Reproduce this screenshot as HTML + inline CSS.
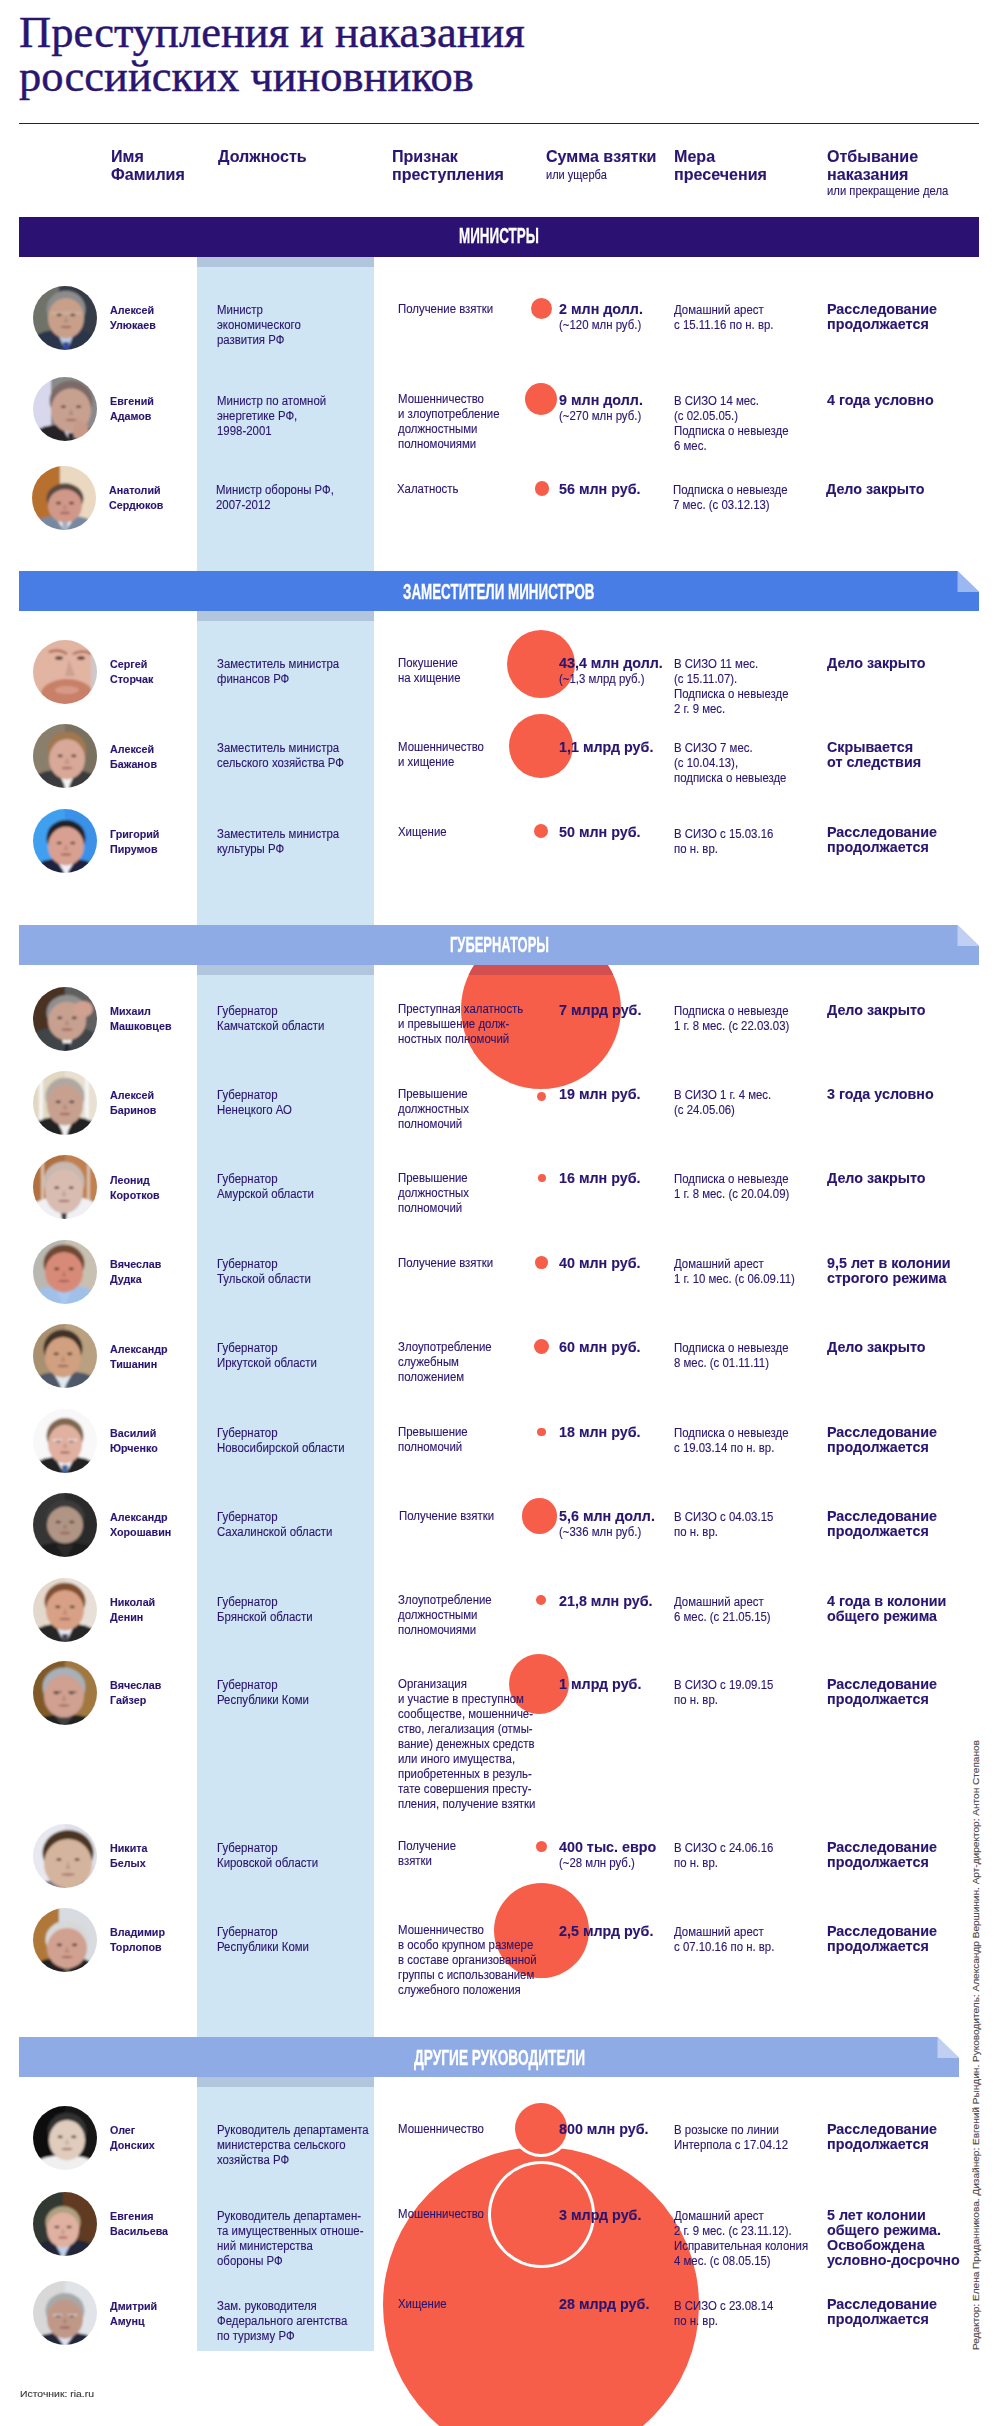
<!DOCTYPE html>
<html><head><meta charset="utf-8">
<style>
html,body{margin:0;padding:0;background:#fff;}
body{width:998px;height:2426px;position:relative;overflow:hidden;font-family:"Liberation Sans",sans-serif;}
.t{position:absolute;white-space:nowrap;transform-origin:0 0;-webkit-text-stroke:0.12px currentColor;}
.abs{position:absolute;}
</style></head><body>
<div class="t" style="left:19px;top:10.88px;font-family:'Liberation Serif',serif;font-size:44.5px;line-height:43.8px;color:#2a1570;-webkit-text-stroke:0.45px #2a1570;">Преступления и наказания<br>российских чиновников</div>
<div class="abs" style="left:19px;top:122.75px;width:960px;height:1.5px;background:#2a1570;"></div>
<div class="t" style="left:111.00px;top:147.61px;font-size:17px;line-height:18px;font-weight:bold;color:#2a1570;transform:scaleX(0.945);">Имя<br>Фамилия</div>
<div class="t" style="left:218.00px;top:147.61px;font-size:17px;line-height:18px;font-weight:bold;color:#2a1570;transform:scaleX(0.945);">Должность</div>
<div class="t" style="left:392.00px;top:147.61px;font-size:17px;line-height:18px;font-weight:bold;color:#2a1570;transform:scaleX(0.945);">Признак<br>преступления</div>
<div class="t" style="left:546.00px;top:147.61px;font-size:17px;line-height:18px;font-weight:bold;color:#2a1570;transform:scaleX(0.945);">Сумма взятки</div>
<div class="t" style="left:546.40px;top:168.10px;font-size:12.7px;line-height:15px;font-weight:normal;color:#2a1570;transform:scaleX(0.87);">или ущерба</div>
<div class="t" style="left:674.30px;top:147.61px;font-size:17px;line-height:18px;font-weight:bold;color:#2a1570;transform:scaleX(0.945);">Мера<br>пресечения</div>
<div class="t" style="left:827.00px;top:147.61px;font-size:17px;line-height:18px;font-weight:bold;color:#2a1570;transform:scaleX(0.945);">Отбывание<br>наказания</div>
<div class="t" style="left:827.00px;top:183.60px;font-size:12.7px;line-height:15px;font-weight:normal;color:#2a1570;transform:scaleX(0.89);">или прекращение дела</div>
<div class="abs" style="left:197px;top:256.5px;width:176.6px;height:2094.9px;background:#cfe5f3;"></div>
<div class="abs" style="left:197px;top:256.5px;width:176.6px;height:10px;background:#b1c5dd;"></div>
<div class="abs" style="left:197px;top:610.8px;width:176.6px;height:10px;background:#b1c5dd;"></div>
<div class="abs" style="left:197px;top:964.6px;width:176.6px;height:10px;background:#b1c5dd;"></div>
<div class="abs" style="left:197px;top:2077px;width:176.6px;height:10px;background:#b1c5dd;"></div>
<div class="abs" style="left:530.90px;top:298.40px;width:21.00px;height:21.00px;border-radius:50%;background:#f65e4a;"></div>
<div class="abs" style="left:525.40px;top:382.90px;width:31.80px;height:31.80px;border-radius:50%;background:#f65e4a;"></div>
<div class="abs" style="left:534.90px;top:481.40px;width:14.60px;height:14.60px;border-radius:50%;background:#f65e4a;"></div>
<div class="abs" style="left:506.70px;top:629.50px;width:68.80px;height:68.80px;border-radius:50%;background:#f65e4a;"></div>
<div class="abs" style="left:509.20px;top:714.20px;width:63.60px;height:63.60px;border-radius:50%;background:#f65e4a;"></div>
<div class="abs" style="left:534.20px;top:824.20px;width:14.00px;height:14.00px;border-radius:50%;background:#f65e4a;"></div>
<div class="abs" style="left:461.00px;top:928.90px;width:160.40px;height:160.40px;border-radius:50%;background:#f65e4a;"></div>
<div class="abs" style="left:461.00px;top:964.6px;width:160.40px;height:10px;overflow:hidden;"><div class="abs" style="left:0;top:-35.70px;width:160.40px;height:160.40px;border-radius:50%;background:#d45050;"></div></div>
<div class="abs" style="left:536.80px;top:1091.90px;width:9.00px;height:9.00px;border-radius:50%;background:#f65e4a;"></div>
<div class="abs" style="left:537.50px;top:1173.80px;width:8.00px;height:8.00px;border-radius:50%;background:#f65e4a;"></div>
<div class="abs" style="left:535.10px;top:1256.10px;width:12.60px;height:12.60px;border-radius:50%;background:#f65e4a;"></div>
<div class="abs" style="left:533.70px;top:1339.10px;width:15.40px;height:15.40px;border-radius:50%;background:#f65e4a;"></div>
<div class="abs" style="left:537.00px;top:1427.50px;width:8.80px;height:8.80px;border-radius:50%;background:#f65e4a;"></div>
<div class="abs" style="left:521.70px;top:1498.40px;width:35.20px;height:35.20px;border-radius:50%;background:#f65e4a;"></div>
<div class="abs" style="left:535.90px;top:1594.70px;width:10.60px;height:10.60px;border-radius:50%;background:#f65e4a;"></div>
<div class="abs" style="left:508.90px;top:1653.90px;width:60.40px;height:60.40px;border-radius:50%;background:#f65e4a;"></div>
<div class="abs" style="left:535.90px;top:1841.00px;width:11.00px;height:11.00px;border-radius:50%;background:#f65e4a;"></div>
<div class="abs" style="left:493.50px;top:1882.70px;width:95.80px;height:95.80px;border-radius:50%;background:#f65e4a;"></div>
<div class="abs" style="left:383.00px;top:2147.20px;width:315.80px;height:315.80px;border-radius:50%;background:#f65e4a;"></div>
<div class="abs" style="left:487.50px;top:2160.70px;width:107.00px;height:107.00px;border-radius:50%;background:#fff;"></div>
<div class="abs" style="left:490.50px;top:2163.70px;width:101.00px;height:101.00px;border-radius:50%;background:#f65e4a;"></div>
<div class="abs" style="left:512.40px;top:2100.00px;width:57.20px;height:57.20px;border-radius:50%;background:#fff;"></div>
<div class="abs" style="left:515.40px;top:2103.00px;width:51.20px;height:51.20px;border-radius:50%;background:#f65e4a;"></div>
<svg class="abs" style="left:0;top:215.6px" width="998" height="42" viewBox="0 215.6 998 42"><polygon points="19,216.6 979,216.6 979,216.6 979,256.6 19,256.6" fill="#2a1172"/></svg>
<svg class="abs" style="left:0;top:570.0px" width="998" height="42" viewBox="0 570.0 998 42"><polygon points="19,571.0 957.5,571.0 979,592.0 979,611.0 19,611.0" fill="#487de6"/><polygon points="957.5,571.0 957.5,592.0 979,592.0" fill="#9cb8f0"/></svg>
<svg class="abs" style="left:0;top:924.0px" width="998" height="42" viewBox="0 924.0 998 42"><polygon points="19,925.0 957.5,925.0 979,946.0 979,965.0 19,965.0" fill="#8eabe6"/><polygon points="957.5,925.0 957.5,946.0 979,946.0" fill="#c0d0f2"/></svg>
<svg class="abs" style="left:0;top:2036.4px" width="998" height="42" viewBox="0 2036.4 998 42"><polygon points="19,2037.4 937.5,2037.4 959,2058.4 959,2077.4 19,2077.4" fill="#8eabe6"/><polygon points="937.5,2037.4 937.5,2058.4 959,2058.4" fill="#c0d0f2"/></svg>
<div class="t" style="left:459.00px;top:223.95px;font-size:21.8px;line-height:24px;font-weight:bold;color:#fff;transform:scaleX(0.617);-webkit-text-stroke:0.3px #fff;">МИНИСТРЫ</div>
<div class="t" style="left:403.30px;top:580.25px;font-size:21.8px;line-height:24px;font-weight:bold;color:#fff;transform:scaleX(0.614);-webkit-text-stroke:0.3px #fff;">ЗАМЕСТИТЕЛИ МИНИСТРОВ</div>
<div class="t" style="left:449.50px;top:933.35px;font-size:21.8px;line-height:24px;font-weight:bold;color:#fff;transform:scaleX(0.594);-webkit-text-stroke:0.3px #fff;">ГУБЕРНАТОРЫ</div>
<div class="t" style="left:413.50px;top:2046.05px;font-size:21.8px;line-height:24px;font-weight:bold;color:#fff;transform:scaleX(0.629);-webkit-text-stroke:0.3px #fff;">ДРУГИЕ РУКОВОДИТЕЛИ</div>
<svg class="abs" style="left:33.00px;top:286.00px" width="64" height="64" viewBox="0 0 64 64"><defs><clipPath id="pc0"><circle cx="32" cy="32" r="32"/></clipPath><filter id="bl0" x="-20%" y="-20%" width="140%" height="140%"><feGaussianBlur stdDeviation="0.8"/></filter></defs><g clip-path="url(#pc0)"><g filter="url(#bl0)"><rect x="-4" y="-4" width="30" height="72" fill="#6e7268"/><rect x="26" y="-4" width="42" height="72" fill="#343a46"/><path d="M-6,70 L-6,56 Q4,46 20,44 L44,44 Q60,46 70,56 L70,70 Z" fill="#2a3448"/><polygon points="24,46 42,46 33,66" fill="#b8cce8"/><polygon points="30,56 36,56 35,66 31,66" fill="#3048a0"/><ellipse cx="33" cy="23.4" rx="19.5" ry="18.7" fill="#8c8c8c"/><ellipse cx="33" cy="32.2" rx="18" ry="20.2" fill="#c8a08a"/><ellipse cx="26.2" cy="28.9" rx="2.6" ry="1.3" fill="#3a2a28" opacity="0.75"/><ellipse cx="39.8" cy="28.9" rx="2.6" ry="1.3" fill="#3a2a28" opacity="0.75"/><ellipse cx="33" cy="41.0" rx="5.4" ry="1.2" fill="#8a4a48" opacity="0.6"/><path d="M33,30 L30.5,36.6 L35.5,36.6 Z" fill="#000" opacity="0.12"/><path d="M18,27 L48,27" stroke="#e0d8d0" stroke-width="1" opacity="0.6"/></g></g></svg>
<svg class="abs" style="left:33.00px;top:376.50px" width="64" height="64" viewBox="0 0 64 64"><defs><clipPath id="pc1"><circle cx="32" cy="32" r="32"/></clipPath><filter id="bl1" x="-20%" y="-20%" width="140%" height="140%"><feGaussianBlur stdDeviation="0.8"/></filter></defs><g clip-path="url(#pc1)"><g filter="url(#bl1)"><rect x="-4" y="-4" width="22" height="72" fill="#d8d8ec"/><rect x="18" y="-4" width="50" height="72" fill="#8a8a8a"/><path d="M-6,70 L-6,60 Q4,50 20,48 L44,48 Q60,50 70,60 L70,70 Z" fill="#282428"/><polygon points="29,50 47,50 38,66" fill="#d0d0e0"/><polygon points="35,56 41,56 40,66 36,66" fill="#282428"/><ellipse cx="38" cy="23.8" rx="21.5" ry="20.4" fill="#7a6a68"/><ellipse cx="38" cy="33.4" rx="20" ry="22.1" fill="#c8a090"/><ellipse cx="30.4" cy="29.8" rx="2.6" ry="1.3" fill="#3a2a28" opacity="0.75"/><ellipse cx="45.6" cy="29.8" rx="2.6" ry="1.3" fill="#3a2a28" opacity="0.75"/><ellipse cx="38" cy="43.0" rx="6.0" ry="1.2" fill="#8a4a48" opacity="0.6"/><path d="M38,31 L35.5,38.2 L40.5,38.2 Z" fill="#000" opacity="0.12"/><ellipse cx="48" cy="54" rx="8" ry="10" fill="#c89888"/></g></g></svg>
<svg class="abs" style="left:31.70px;top:466.00px" width="64" height="64" viewBox="0 0 64 64"><defs><clipPath id="pc2"><circle cx="32" cy="32" r="32"/></clipPath><filter id="bl2" x="-20%" y="-20%" width="140%" height="140%"><feGaussianBlur stdDeviation="0.8"/></filter></defs><g clip-path="url(#pc2)"><g filter="url(#bl2)"><rect x="-4" y="-4" width="32" height="72" fill="#b8702e"/><rect x="28" y="-4" width="40" height="72" fill="#ead8c0"/><path d="M-6,70 L-6,62 Q4,52 20,50 L44,50 Q60,52 70,62 L70,70 Z" fill="#7888a0"/><polygon points="24,52 42,52 33,66" fill="#f4f4f4"/><polygon points="30,56 36,56 35,66 31,66" fill="#a0b0c8"/><ellipse cx="33" cy="32.6" rx="18.5" ry="15.3" fill="#5a4a40"/><ellipse cx="33" cy="39.8" rx="17" ry="16.6" fill="#d09888"/><ellipse cx="26.5" cy="37.1" rx="2.6" ry="1.3" fill="#3a2a28" opacity="0.75"/><ellipse cx="39.5" cy="37.1" rx="2.6" ry="1.3" fill="#3a2a28" opacity="0.75"/><ellipse cx="33" cy="47.0" rx="5.1" ry="1.2" fill="#8a4a48" opacity="0.6"/><path d="M33,38 L30.5,43.4 L35.5,43.4 Z" fill="#000" opacity="0.12"/></g></g></svg>
<svg class="abs" style="left:33.00px;top:640.00px" width="64" height="64" viewBox="0 0 64 64"><defs><clipPath id="pc3"><circle cx="32" cy="32" r="32"/></clipPath><filter id="bl3" x="-20%" y="-20%" width="140%" height="140%"><feGaussianBlur stdDeviation="0.8"/></filter></defs><g clip-path="url(#pc3)"><g filter="url(#bl3)"><rect x="-4" y="-4" width="72" height="72" fill="#e2b4a2"/><ellipse cx="34" cy="54" rx="26" ry="15" fill="#c88068"/><ellipse cx="34" cy="50" rx="12" ry="4" fill="#d89a88"/><ellipse cx="26" cy="18" rx="4" ry="1.8" fill="#5a3a30"/><ellipse cx="48" cy="18" rx="4" ry="1.8" fill="#5a3a30"/><path d="M16,12 Q26,8 34,14 M40,14 Q50,9 58,14" stroke="#b07058" stroke-width="2.5" fill="none"/><path d="M36,20 L32,36 L42,36 Z" fill="#000" opacity="0.1"/><rect x="58" y="-4" width="10" height="72" fill="#d0c8c8"/></g></g></svg>
<svg class="abs" style="left:33.00px;top:724.20px" width="64" height="64" viewBox="0 0 64 64"><defs><clipPath id="pc4"><circle cx="32" cy="32" r="32"/></clipPath><filter id="bl4" x="-20%" y="-20%" width="140%" height="140%"><feGaussianBlur stdDeviation="0.8"/></filter></defs><g clip-path="url(#pc4)"><g filter="url(#bl4)"><rect x="-4" y="-4" width="36" height="72" fill="#8a7e6c"/><rect x="32" y="-4" width="36" height="72" fill="#7a7060"/><path d="M-6,70 L-6,58 Q4,48 20,46 L44,46 Q60,48 70,58 L70,70 Z" fill="#3a3a3c"/><polygon points="25,48 43,48 34,66" fill="#f4f4f4"/><polygon points="31,56 37,56 36,66 32,66" fill="#f4f4f4"/><ellipse cx="34" cy="26.4" rx="19.5" ry="18.7" fill="#a07850"/><ellipse cx="34" cy="35.2" rx="18" ry="20.2" fill="#d8a898"/><ellipse cx="27.2" cy="31.9" rx="2.6" ry="1.3" fill="#3a2a28" opacity="0.75"/><ellipse cx="40.8" cy="31.9" rx="2.6" ry="1.3" fill="#3a2a28" opacity="0.75"/><ellipse cx="34" cy="44.0" rx="5.4" ry="1.2" fill="#8a4a48" opacity="0.6"/><path d="M34,33 L31.5,39.6 L36.5,39.6 Z" fill="#000" opacity="0.12"/></g></g></svg>
<svg class="abs" style="left:33.00px;top:809.30px" width="64" height="64" viewBox="0 0 64 64"><defs><clipPath id="pc5"><circle cx="32" cy="32" r="32"/></clipPath><filter id="bl5" x="-20%" y="-20%" width="140%" height="140%"><feGaussianBlur stdDeviation="0.8"/></filter></defs><g clip-path="url(#pc5)"><g filter="url(#bl5)"><rect x="-4" y="-4" width="36" height="72" fill="#40a0f0"/><rect x="32" y="-4" width="36" height="72" fill="#3a90e8"/><path d="M-6,70 L-6,62 Q4,52 20,50 L44,50 Q60,52 70,62 L70,70 Z" fill="#1a2040"/><polygon points="24,52 42,52 33,66" fill="#f0f0f8"/><polygon points="30,56 36,56 35,66 31,66" fill="#f0f0f8"/><ellipse cx="33" cy="28.7" rx="19.5" ry="17.8" fill="#202028"/><ellipse cx="33" cy="37.1" rx="18" ry="19.3" fill="#d8a090"/><ellipse cx="26.2" cy="34.0" rx="2.6" ry="1.3" fill="#3a2a28" opacity="0.75"/><ellipse cx="39.8" cy="34.0" rx="2.6" ry="1.3" fill="#3a2a28" opacity="0.75"/><ellipse cx="33" cy="45.5" rx="5.4" ry="1.2" fill="#8a4a48" opacity="0.6"/><path d="M33,35 L30.5,41.3 L35.5,41.3 Z" fill="#000" opacity="0.12"/></g></g></svg>
<svg class="abs" style="left:33.00px;top:986.70px" width="64" height="64" viewBox="0 0 64 64"><defs><clipPath id="pc6"><circle cx="32" cy="32" r="32"/></clipPath><filter id="bl6" x="-20%" y="-20%" width="140%" height="140%"><feGaussianBlur stdDeviation="0.8"/></filter></defs><g clip-path="url(#pc6)"><g filter="url(#bl6)"><rect x="-4" y="-4" width="36" height="72" fill="#4a3020"/><rect x="32" y="-4" width="36" height="72" fill="#606060"/><path d="M-6,70 L-6,52 Q4,42 20,40 L44,40 Q60,42 70,52 L70,70 Z" fill="#404448"/><polygon points="25,42 43,42 34,66" fill="#f4f4f4"/><polygon points="31,56 37,56 36,66 32,66" fill="#202830"/><ellipse cx="34" cy="25.7" rx="20.5" ry="17.8" fill="#909090"/><ellipse cx="34" cy="34.1" rx="19" ry="19.3" fill="#c8a090"/><ellipse cx="26.8" cy="30.9" rx="2.6" ry="1.3" fill="#3a2a28" opacity="0.75"/><ellipse cx="41.2" cy="30.9" rx="2.6" ry="1.3" fill="#3a2a28" opacity="0.75"/><ellipse cx="34" cy="42.5" rx="5.7" ry="1.2" fill="#8a4a48" opacity="0.6"/><path d="M34,32 L31.5,38.3 L36.5,38.3 Z" fill="#000" opacity="0.12"/><ellipse cx="50" cy="22" rx="10" ry="8" fill="#d0a090"/></g></g></svg>
<svg class="abs" style="left:33.00px;top:1071.00px" width="64" height="64" viewBox="0 0 64 64"><defs><clipPath id="pc7"><circle cx="32" cy="32" r="32"/></clipPath><filter id="bl7" x="-20%" y="-20%" width="140%" height="140%"><feGaussianBlur stdDeviation="0.8"/></filter></defs><g clip-path="url(#pc7)"><g filter="url(#bl7)"><rect x="-4" y="-4" width="36" height="72" fill="#e0d8c0"/><rect x="32" y="-4" width="36" height="72" fill="#e8e0d0"/><rect x="6" y="-4" width="4" height="72" fill="#f4f4f4"/><rect x="52" y="-4" width="4" height="72" fill="#f4f4f4"/><path d="M-6,70 L-6,58 Q4,48 20,46 L44,46 Q60,48 70,58 L70,70 Z" fill="#202020"/><polygon points="23,48 41,48 32,66" fill="#f0f0f0"/><polygon points="29,56 35,56 34,66 30,66" fill="#f0f0f0"/><ellipse cx="32" cy="25.4" rx="19.5" ry="18.7" fill="#b0a8a0"/><ellipse cx="32" cy="34.2" rx="18" ry="20.2" fill="#c8a090"/><ellipse cx="25.2" cy="30.9" rx="2.6" ry="1.3" fill="#3a2a28" opacity="0.75"/><ellipse cx="38.8" cy="30.9" rx="2.6" ry="1.3" fill="#3a2a28" opacity="0.75"/><ellipse cx="32" cy="43.0" rx="5.4" ry="1.2" fill="#8a4a48" opacity="0.6"/><path d="M32,32 L29.5,38.6 L34.5,38.6 Z" fill="#000" opacity="0.12"/></g></g></svg>
<svg class="abs" style="left:33.00px;top:1155.20px" width="64" height="64" viewBox="0 0 64 64"><defs><clipPath id="pc8"><circle cx="32" cy="32" r="32"/></clipPath><filter id="bl8" x="-20%" y="-20%" width="140%" height="140%"><feGaussianBlur stdDeviation="0.8"/></filter></defs><g clip-path="url(#pc8)"><g filter="url(#bl8)"><rect x="-4" y="-4" width="36" height="72" fill="#b07040"/><rect x="32" y="-4" width="36" height="72" fill="#c08050"/><rect x="8" y="-4" width="3" height="50" fill="#d8c0a8"/><rect x="54" y="-4" width="3" height="50" fill="#d8c0a8"/><path d="M-6,70 L-6,54 Q4,44 20,42 L44,42 Q60,44 70,54 L70,70 Z" fill="#f0f0f4"/><polygon points="22,44 40,44 31,66" fill="#f0f0f4"/><polygon points="28,56 34,56 33,66 29,66" fill="#303040"/><ellipse cx="31" cy="26.8" rx="20.5" ry="20.4" fill="#c8b8b0"/><ellipse cx="31" cy="36.4" rx="19" ry="22.1" fill="#d8bcb0"/><ellipse cx="23.8" cy="32.8" rx="2.6" ry="1.3" fill="#3a2a28" opacity="0.75"/><ellipse cx="38.2" cy="32.8" rx="2.6" ry="1.3" fill="#3a2a28" opacity="0.75"/><ellipse cx="31" cy="46.0" rx="5.7" ry="1.2" fill="#8a4a48" opacity="0.6"/><path d="M31,34 L28.5,41.2 L33.5,41.2 Z" fill="#000" opacity="0.12"/></g></g></svg>
<svg class="abs" style="left:33.00px;top:1240.00px" width="64" height="64" viewBox="0 0 64 64"><defs><clipPath id="pc9"><circle cx="32" cy="32" r="32"/></clipPath><filter id="bl9" x="-20%" y="-20%" width="140%" height="140%"><feGaussianBlur stdDeviation="0.8"/></filter></defs><g clip-path="url(#pc9)"><g filter="url(#bl9)"><rect x="-4" y="-4" width="36" height="72" fill="#b8b8b0"/><rect x="32" y="-4" width="36" height="72" fill="#c8c0b0"/><path d="M-6,70 L-6,58 Q4,48 20,46 L44,46 Q60,48 70,58 L70,70 Z" fill="#a0c0e8"/><polygon points="22,48 40,48 31,66" fill="#a8c8f0"/><polygon points="28,56 34,56 33,66 29,66" fill="#a8c8f0"/><ellipse cx="31" cy="23.4" rx="20.5" ry="18.7" fill="#704830"/><ellipse cx="31" cy="32.2" rx="19" ry="20.2" fill="#d88a78"/><ellipse cx="23.8" cy="28.9" rx="2.6" ry="1.3" fill="#3a2a28" opacity="0.75"/><ellipse cx="38.2" cy="28.9" rx="2.6" ry="1.3" fill="#3a2a28" opacity="0.75"/><ellipse cx="31" cy="41.0" rx="5.7" ry="1.2" fill="#8a4a48" opacity="0.6"/><path d="M31,30 L28.5,36.6 L33.5,36.6 Z" fill="#000" opacity="0.12"/></g></g></svg>
<svg class="abs" style="left:33.00px;top:1324.20px" width="64" height="64" viewBox="0 0 64 64"><defs><clipPath id="pc10"><circle cx="32" cy="32" r="32"/></clipPath><filter id="bl10" x="-20%" y="-20%" width="140%" height="140%"><feGaussianBlur stdDeviation="0.8"/></filter></defs><g clip-path="url(#pc10)"><g filter="url(#bl10)"><rect x="-4" y="-4" width="36" height="72" fill="#a89070"/><rect x="32" y="-4" width="36" height="72" fill="#b8a080"/><path d="M-6,70 L-6,60 Q4,50 20,48 L44,48 Q60,50 70,60 L70,70 Z" fill="#505868"/><polygon points="21,50 39,50 30,66" fill="#e0e8f0"/><polygon points="27,56 33,56 32,66 28,66" fill="#e0e8f0"/><ellipse cx="30" cy="24.4" rx="19.5" ry="18.7" fill="#403028"/><ellipse cx="30" cy="33.2" rx="18" ry="20.2" fill="#d0a080"/><ellipse cx="23.2" cy="29.9" rx="2.6" ry="1.3" fill="#3a2a28" opacity="0.75"/><ellipse cx="36.8" cy="29.9" rx="2.6" ry="1.3" fill="#3a2a28" opacity="0.75"/><ellipse cx="30" cy="42.0" rx="5.4" ry="1.2" fill="#8a4a48" opacity="0.6"/><path d="M30,31 L27.5,37.6 L32.5,37.6 Z" fill="#000" opacity="0.12"/></g></g></svg>
<svg class="abs" style="left:33.00px;top:1409.00px" width="64" height="64" viewBox="0 0 64 64"><defs><clipPath id="pc11"><circle cx="32" cy="32" r="32"/></clipPath><filter id="bl11" x="-20%" y="-20%" width="140%" height="140%"><feGaussianBlur stdDeviation="0.8"/></filter></defs><g clip-path="url(#pc11)"><g filter="url(#bl11)"><rect x="-4" y="-4" width="36" height="72" fill="#f8f8f8"/><rect x="32" y="-4" width="36" height="72" fill="#f8f8f8"/><path d="M-6,70 L-6,60 Q4,50 20,48 L44,48 Q60,50 70,60 L70,70 Z" fill="#202020"/><polygon points="23,50 41,50 32,66" fill="#f4f4f4"/><polygon points="29,56 35,56 34,66 30,66" fill="#4060a0"/><ellipse cx="32" cy="26.7" rx="18.5" ry="17.8" fill="#806850"/><ellipse cx="32" cy="35.1" rx="17" ry="19.3" fill="#e0b0a0"/><ellipse cx="25.5" cy="31.9" rx="2.6" ry="1.3" fill="#3a2a28" opacity="0.75"/><ellipse cx="38.5" cy="31.9" rx="2.6" ry="1.3" fill="#3a2a28" opacity="0.75"/><ellipse cx="32" cy="43.5" rx="5.1" ry="1.2" fill="#8a4a48" opacity="0.6"/><path d="M32,33 L29.5,39.3 L34.5,39.3 Z" fill="#000" opacity="0.12"/><path d="M20,31 h9 M35,31 h9" stroke="#e8e8e8" stroke-width="2" opacity="0.8"/></g></g></svg>
<svg class="abs" style="left:33.00px;top:1493.00px" width="64" height="64" viewBox="0 0 64 64"><defs><clipPath id="pc12"><circle cx="32" cy="32" r="32"/></clipPath><filter id="bl12" x="-20%" y="-20%" width="140%" height="140%"><feGaussianBlur stdDeviation="0.8"/></filter></defs><g clip-path="url(#pc12)"><g filter="url(#bl12)"><rect x="-4" y="-4" width="36" height="72" fill="#363636"/><rect x="32" y="-4" width="36" height="72" fill="#2c2c2c"/><path d="M-6,70 L-6,62 Q4,52 20,50 L44,50 Q60,52 70,62 L70,70 Z" fill="#1c1c1c"/><polygon points="23,52 41,52 32,66" fill="#2a2a2a"/><polygon points="29,56 35,56 34,66 30,66" fill="#2a2a2a"/><ellipse cx="32" cy="24.0" rx="19.5" ry="17.0" fill="#3a3a3a"/><ellipse cx="32" cy="32.0" rx="18" ry="18.4" fill="#b09484"/><ellipse cx="25.2" cy="29.0" rx="2.6" ry="1.3" fill="#3a2a28" opacity="0.75"/><ellipse cx="38.8" cy="29.0" rx="2.6" ry="1.3" fill="#3a2a28" opacity="0.75"/><ellipse cx="32" cy="40.0" rx="5.4" ry="1.2" fill="#8a4a48" opacity="0.6"/><path d="M32,30 L29.5,36.0 L34.5,36.0 Z" fill="#000" opacity="0.12"/></g></g></svg>
<svg class="abs" style="left:33.00px;top:1577.50px" width="64" height="64" viewBox="0 0 64 64"><defs><clipPath id="pc13"><circle cx="32" cy="32" r="32"/></clipPath><filter id="bl13" x="-20%" y="-20%" width="140%" height="140%"><feGaussianBlur stdDeviation="0.8"/></filter></defs><g clip-path="url(#pc13)"><g filter="url(#bl13)"><rect x="-4" y="-4" width="36" height="72" fill="#e4d8cc"/><rect x="32" y="-4" width="36" height="72" fill="#e8e0d8"/><path d="M-6,70 L-6,58 Q4,48 20,46 L44,46 Q60,48 70,58 L70,70 Z" fill="#282828"/><polygon points="23,48 41,48 32,66" fill="#e8e8f4"/><polygon points="29,56 35,56 34,66 30,66" fill="#404050"/><ellipse cx="32" cy="23.4" rx="20.5" ry="18.7" fill="#805030"/><ellipse cx="32" cy="32.2" rx="19" ry="20.2" fill="#d8a084"/><ellipse cx="24.8" cy="28.9" rx="2.6" ry="1.3" fill="#3a2a28" opacity="0.75"/><ellipse cx="39.2" cy="28.9" rx="2.6" ry="1.3" fill="#3a2a28" opacity="0.75"/><ellipse cx="32" cy="41.0" rx="5.7" ry="1.2" fill="#8a4a48" opacity="0.6"/><path d="M32,30 L29.5,36.6 L34.5,36.6 Z" fill="#000" opacity="0.12"/></g></g></svg>
<svg class="abs" style="left:33.00px;top:1661.00px" width="64" height="64" viewBox="0 0 64 64"><defs><clipPath id="pc14"><circle cx="32" cy="32" r="32"/></clipPath><filter id="bl14" x="-20%" y="-20%" width="140%" height="140%"><feGaussianBlur stdDeviation="0.8"/></filter></defs><g clip-path="url(#pc14)"><g filter="url(#bl14)"><rect x="-4" y="-4" width="36" height="72" fill="#805a28"/><rect x="32" y="-4" width="36" height="72" fill="#a07840"/><path d="M-6,70 L-6,66 Q4,56 20,54 L44,54 Q60,56 70,66 L70,70 Z" fill="#202020"/><polygon points="22,56 40,56 31,66" fill="#404040"/><polygon points="28,56 34,56 33,66 29,66" fill="#404040"/><ellipse cx="31" cy="26.1" rx="21.5" ry="19.6" fill="#a8b0b8"/><ellipse cx="31" cy="35.3" rx="20" ry="21.2" fill="#d0a090"/><ellipse cx="23.4" cy="31.9" rx="2.6" ry="1.3" fill="#3a2a28" opacity="0.75"/><ellipse cx="38.6" cy="31.9" rx="2.6" ry="1.3" fill="#3a2a28" opacity="0.75"/><ellipse cx="31" cy="44.5" rx="6.0" ry="1.2" fill="#8a4a48" opacity="0.6"/><path d="M31,33 L28.5,39.9 L33.5,39.9 Z" fill="#000" opacity="0.12"/><path d="M20,31 h9 M35,31 h9" stroke="#404040" stroke-width="1.2" opacity="0.8"/></g></g></svg>
<svg class="abs" style="left:33.00px;top:1823.50px" width="64" height="64" viewBox="0 0 64 64"><defs><clipPath id="pc15"><circle cx="32" cy="32" r="32"/></clipPath><filter id="bl15" x="-20%" y="-20%" width="140%" height="140%"><feGaussianBlur stdDeviation="0.8"/></filter></defs><g clip-path="url(#pc15)"><g filter="url(#bl15)"><rect x="-4" y="-4" width="36" height="72" fill="#e8e8f0"/><rect x="32" y="-4" width="36" height="72" fill="#e0e0e8"/><path d="M-6,70 L-6,68 Q4,58 20,56 L44,56 Q60,58 70,68 L70,70 Z" fill="#7a7488"/><polygon points="26,58 44,58 35,66" fill="#d0d0e0"/><polygon points="32,56 38,56 37,66 33,66" fill="#d0d0e0"/><ellipse cx="35" cy="28.9" rx="25.5" ry="22.9" fill="#4a3424"/><ellipse cx="35" cy="39.7" rx="24" ry="24.8" fill="#d4b49c"/><ellipse cx="25.9" cy="35.6" rx="2.6" ry="1.3" fill="#3a2a28" opacity="0.75"/><ellipse cx="44.1" cy="35.6" rx="2.6" ry="1.3" fill="#3a2a28" opacity="0.75"/><ellipse cx="35" cy="50.5" rx="7.2" ry="1.2" fill="#8a4a48" opacity="0.6"/><path d="M35,37 L32.5,45.1 L37.5,45.1 Z" fill="#000" opacity="0.12"/></g></g></svg>
<svg class="abs" style="left:33.00px;top:1907.60px" width="64" height="64" viewBox="0 0 64 64"><defs><clipPath id="pc16"><circle cx="32" cy="32" r="32"/></clipPath><filter id="bl16" x="-20%" y="-20%" width="140%" height="140%"><feGaussianBlur stdDeviation="0.8"/></filter></defs><g clip-path="url(#pc16)"><g filter="url(#bl16)"><rect x="-4" y="-4" width="30" height="72" fill="#b07838"/><rect x="26" y="-4" width="42" height="72" fill="#d8dce0"/><path d="M-6,70 L-6,62 Q4,52 20,50 L44,50 Q60,52 70,62 L70,70 Z" fill="#202020"/><polygon points="25,52 43,52 34,66" fill="#606050"/><polygon points="31,56 37,56 36,66 32,66" fill="#606050"/><ellipse cx="34" cy="31.4" rx="21.5" ry="18.7" fill="#d8d8d8"/><ellipse cx="34" cy="40.2" rx="20" ry="20.2" fill="#d0a090"/><ellipse cx="26.4" cy="36.9" rx="2.6" ry="1.3" fill="#3a2a28" opacity="0.75"/><ellipse cx="41.6" cy="36.9" rx="2.6" ry="1.3" fill="#3a2a28" opacity="0.75"/><ellipse cx="34" cy="49.0" rx="6.0" ry="1.2" fill="#8a4a48" opacity="0.6"/><path d="M34,38 L31.5,44.6 L36.5,44.6 Z" fill="#000" opacity="0.12"/></g></g></svg>
<svg class="abs" style="left:33.00px;top:2106.00px" width="64" height="64" viewBox="0 0 64 64"><defs><clipPath id="pc17"><circle cx="32" cy="32" r="32"/></clipPath><filter id="bl17" x="-20%" y="-20%" width="140%" height="140%"><feGaussianBlur stdDeviation="0.8"/></filter></defs><g clip-path="url(#pc17)"><g filter="url(#bl17)"><rect x="-4" y="-4" width="36" height="72" fill="#101010"/><rect x="32" y="-4" width="36" height="72" fill="#181818"/><path d="M-6,70 L-6,62 Q4,52 20,50 L44,50 Q60,52 70,62 L70,70 Z" fill="#f0f0f0"/><polygon points="25,52 43,52 34,66" fill="#f0f0f0"/><polygon points="31,56 37,56 36,66 32,66" fill="#f0f0f0"/><ellipse cx="34" cy="25.4" rx="19.5" ry="18.7" fill="#303030"/><ellipse cx="34" cy="34.2" rx="18" ry="20.2" fill="#e0ccbc"/><ellipse cx="27.2" cy="30.9" rx="2.6" ry="1.3" fill="#3a2a28" opacity="0.75"/><ellipse cx="40.8" cy="30.9" rx="2.6" ry="1.3" fill="#3a2a28" opacity="0.75"/><ellipse cx="34" cy="43.0" rx="5.4" ry="1.2" fill="#8a4a48" opacity="0.6"/><path d="M34,32 L31.5,38.6 L36.5,38.6 Z" fill="#000" opacity="0.12"/></g></g></svg>
<svg class="abs" style="left:33.00px;top:2191.50px" width="64" height="64" viewBox="0 0 64 64"><defs><clipPath id="pc18"><circle cx="32" cy="32" r="32"/></clipPath><filter id="bl18" x="-20%" y="-20%" width="140%" height="140%"><feGaussianBlur stdDeviation="0.8"/></filter></defs><g clip-path="url(#pc18)"><g filter="url(#bl18)"><rect x="-4" y="-4" width="34" height="72" fill="#303830"/><rect x="30" y="-4" width="38" height="72" fill="#603a20"/><path d="M-6,70 L-6,60 Q4,50 20,48 L44,48 Q60,50 70,60 L70,70 Z" fill="#202838"/><polygon points="21,50 39,50 30,66" fill="#c0d0e8"/><polygon points="27,56 33,56 32,66 28,66" fill="#c0d0e8"/><ellipse cx="30" cy="30.3" rx="17.5" ry="16.1" fill="#b0a080"/><ellipse cx="30" cy="37.9" rx="16" ry="17.5" fill="#e0b0a0"/><ellipse cx="23.9" cy="35.0" rx="2.6" ry="1.3" fill="#3a2a28" opacity="0.75"/><ellipse cx="36.1" cy="35.0" rx="2.6" ry="1.3" fill="#3a2a28" opacity="0.75"/><ellipse cx="30" cy="45.5" rx="4.8" ry="1.2" fill="#8a4a48" opacity="0.6"/><path d="M30,36 L27.5,41.7 L32.5,41.7 Z" fill="#000" opacity="0.12"/></g></g></svg>
<svg class="abs" style="left:33.00px;top:2281.30px" width="64" height="64" viewBox="0 0 64 64"><defs><clipPath id="pc19"><circle cx="32" cy="32" r="32"/></clipPath><filter id="bl19" x="-20%" y="-20%" width="140%" height="140%"><feGaussianBlur stdDeviation="0.8"/></filter></defs><g clip-path="url(#pc19)"><g filter="url(#bl19)"><rect x="-4" y="-4" width="36" height="72" fill="#d8d8d8"/><rect x="32" y="-4" width="36" height="72" fill="#e0e4e8"/><path d="M-6,70 L-6,64 Q4,54 20,52 L44,52 Q60,54 70,64 L70,70 Z" fill="#202838"/><polygon points="23,54 41,54 32,66" fill="#e0e0f0"/><polygon points="29,56 35,56 34,66 30,66" fill="#e0e0f0"/><ellipse cx="32" cy="29.7" rx="19.5" ry="17.8" fill="#a8a8a8"/><ellipse cx="32" cy="38.1" rx="18" ry="19.3" fill="#c09888"/><ellipse cx="25.2" cy="35.0" rx="2.6" ry="1.3" fill="#3a2a28" opacity="0.75"/><ellipse cx="38.8" cy="35.0" rx="2.6" ry="1.3" fill="#3a2a28" opacity="0.75"/><ellipse cx="32" cy="46.5" rx="5.4" ry="1.2" fill="#8a4a48" opacity="0.6"/><path d="M32,36 L29.5,42.3 L34.5,42.3 Z" fill="#000" opacity="0.12"/><path d="M20,34 h9 M35,34 h9" stroke="#e0e0e0" stroke-width="1.5" opacity="0.8"/></g></g></svg>
<div class="t" style="left:110.20px;top:302.48px;font-size:11.6px;line-height:15px;font-weight:bold;color:#2a1570;transform:scaleX(0.925);">Алексей<br>Улюкаев</div>
<div class="t" style="left:217.00px;top:303.24px;font-size:12.3px;line-height:15px;font-weight:normal;color:#2a1570;transform:scaleX(0.928);">Министр<br>экономического<br>развития РФ</div>
<div class="t" style="left:398.00px;top:301.74px;font-size:12.3px;line-height:15px;font-weight:normal;color:#2a1570;transform:scaleX(0.928);">Получение взятки</div>
<div class="t" style="left:559.30px;top:301.13px;font-size:15.5px;line-height:15px;font-weight:bold;color:#2a1570;transform:scaleX(0.924);">2 млн долл.</div>
<div class="t" style="left:559.30px;top:318.24px;font-size:12.3px;line-height:15px;font-weight:normal;color:#2a1570;transform:scaleX(0.928);">(~120 млн руб.)</div>
<div class="t" style="left:674.00px;top:303.24px;font-size:12.3px;line-height:15px;font-weight:normal;color:#2a1570;transform:scaleX(0.928);">Домашний арест<br>с 15.11.16 по н. вр.</div>
<div class="t" style="left:827.00px;top:301.13px;font-size:15.5px;line-height:15px;font-weight:bold;color:#2a1570;transform:scaleX(0.924);">Расследование<br>продолжается</div>
<div class="t" style="left:110.20px;top:392.98px;font-size:11.6px;line-height:15px;font-weight:bold;color:#2a1570;transform:scaleX(0.925);">Евгений<br>Адамов</div>
<div class="t" style="left:217.00px;top:393.74px;font-size:12.3px;line-height:15px;font-weight:normal;color:#2a1570;transform:scaleX(0.928);">Министр по атомной<br>энергетике РФ,<br>1998-2001</div>
<div class="t" style="left:398.00px;top:392.24px;font-size:12.3px;line-height:15px;font-weight:normal;color:#2a1570;transform:scaleX(0.928);">Мошенничество<br>и злоупотребление<br>должностными<br>полномочиями</div>
<div class="t" style="left:559.30px;top:391.63px;font-size:15.5px;line-height:15px;font-weight:bold;color:#2a1570;transform:scaleX(0.924);">9 млн долл.</div>
<div class="t" style="left:559.30px;top:408.74px;font-size:12.3px;line-height:15px;font-weight:normal;color:#2a1570;transform:scaleX(0.928);">(~270 млн руб.)</div>
<div class="t" style="left:674.00px;top:393.74px;font-size:12.3px;line-height:15px;font-weight:normal;color:#2a1570;transform:scaleX(0.928);">В СИЗО 14 мес.<br>(с 02.05.05.)<br>Подписка о невыезде<br>6 мес.</div>
<div class="t" style="left:827.00px;top:391.63px;font-size:15.5px;line-height:15px;font-weight:bold;color:#2a1570;transform:scaleX(0.924);">4 года условно</div>
<div class="t" style="left:109.20px;top:482.48px;font-size:11.6px;line-height:15px;font-weight:bold;color:#2a1570;transform:scaleX(0.925);">Анатолий<br>Сердюков</div>
<div class="t" style="left:216.00px;top:483.24px;font-size:12.3px;line-height:15px;font-weight:normal;color:#2a1570;transform:scaleX(0.928);">Министр обороны РФ,<br>2007-2012</div>
<div class="t" style="left:397.00px;top:481.74px;font-size:12.3px;line-height:15px;font-weight:normal;color:#2a1570;transform:scaleX(0.928);">Халатность</div>
<div class="t" style="left:559.30px;top:481.13px;font-size:15.5px;line-height:15px;font-weight:bold;color:#2a1570;transform:scaleX(0.924);">56 млн руб.</div>
<div class="t" style="left:673.00px;top:483.24px;font-size:12.3px;line-height:15px;font-weight:normal;color:#2a1570;transform:scaleX(0.928);">Подписка о невыезде<br>7 мес. (с 03.12.13)</div>
<div class="t" style="left:826.00px;top:481.13px;font-size:15.5px;line-height:15px;font-weight:bold;color:#2a1570;transform:scaleX(0.924);">Дело закрыто</div>
<div class="t" style="left:110.20px;top:656.48px;font-size:11.6px;line-height:15px;font-weight:bold;color:#2a1570;transform:scaleX(0.925);">Сергей<br>Сторчак</div>
<div class="t" style="left:217.00px;top:657.24px;font-size:12.3px;line-height:15px;font-weight:normal;color:#2a1570;transform:scaleX(0.928);">Заместитель министра<br>финансов РФ</div>
<div class="t" style="left:398.00px;top:655.74px;font-size:12.3px;line-height:15px;font-weight:normal;color:#2a1570;transform:scaleX(0.928);">Покушение<br>на хищение</div>
<div class="t" style="left:559.30px;top:655.13px;font-size:15.5px;line-height:15px;font-weight:bold;color:#2a1570;transform:scaleX(0.924);">43,4 млн долл.</div>
<div class="t" style="left:559.30px;top:672.24px;font-size:12.3px;line-height:15px;font-weight:normal;color:#2a1570;transform:scaleX(0.928);">(~1,3 млрд руб.)</div>
<div class="t" style="left:674.00px;top:657.24px;font-size:12.3px;line-height:15px;font-weight:normal;color:#2a1570;transform:scaleX(0.928);">В СИЗО 11 мес.<br>(с 15.11.07).<br>Подписка о невыезде<br>2 г. 9 мес.</div>
<div class="t" style="left:827.00px;top:655.13px;font-size:15.5px;line-height:15px;font-weight:bold;color:#2a1570;transform:scaleX(0.924);">Дело закрыто</div>
<div class="t" style="left:110.20px;top:740.68px;font-size:11.6px;line-height:15px;font-weight:bold;color:#2a1570;transform:scaleX(0.925);">Алексей<br>Бажанов</div>
<div class="t" style="left:217.00px;top:741.44px;font-size:12.3px;line-height:15px;font-weight:normal;color:#2a1570;transform:scaleX(0.928);">Заместитель министра<br>сельского хозяйства РФ</div>
<div class="t" style="left:398.00px;top:739.94px;font-size:12.3px;line-height:15px;font-weight:normal;color:#2a1570;transform:scaleX(0.928);">Мошенничество<br>и хищение</div>
<div class="t" style="left:559.30px;top:739.33px;font-size:15.5px;line-height:15px;font-weight:bold;color:#2a1570;transform:scaleX(0.924);">1,1 млрд руб.</div>
<div class="t" style="left:674.00px;top:741.44px;font-size:12.3px;line-height:15px;font-weight:normal;color:#2a1570;transform:scaleX(0.928);">В СИЗО 7 мес.<br>(с 10.04.13),<br>подписка о невыезде</div>
<div class="t" style="left:827.00px;top:739.33px;font-size:15.5px;line-height:15px;font-weight:bold;color:#2a1570;transform:scaleX(0.924);">Скрывается<br>от следствия</div>
<div class="t" style="left:110.20px;top:825.78px;font-size:11.6px;line-height:15px;font-weight:bold;color:#2a1570;transform:scaleX(0.925);">Григорий<br>Пирумов</div>
<div class="t" style="left:217.00px;top:826.54px;font-size:12.3px;line-height:15px;font-weight:normal;color:#2a1570;transform:scaleX(0.928);">Заместитель министра<br>культуры РФ</div>
<div class="t" style="left:398.00px;top:825.04px;font-size:12.3px;line-height:15px;font-weight:normal;color:#2a1570;transform:scaleX(0.928);">Хищение</div>
<div class="t" style="left:559.30px;top:824.43px;font-size:15.5px;line-height:15px;font-weight:bold;color:#2a1570;transform:scaleX(0.924);">50 млн руб.</div>
<div class="t" style="left:674.00px;top:826.54px;font-size:12.3px;line-height:15px;font-weight:normal;color:#2a1570;transform:scaleX(0.928);">В СИЗО с 15.03.16<br>по н. вр.</div>
<div class="t" style="left:827.00px;top:824.43px;font-size:15.5px;line-height:15px;font-weight:bold;color:#2a1570;transform:scaleX(0.924);">Расследование<br>продолжается</div>
<div class="t" style="left:110.20px;top:1003.18px;font-size:11.6px;line-height:15px;font-weight:bold;color:#2a1570;transform:scaleX(0.925);">Михаил<br>Машковцев</div>
<div class="t" style="left:217.00px;top:1003.94px;font-size:12.3px;line-height:15px;font-weight:normal;color:#2a1570;transform:scaleX(0.928);">Губернатор<br>Камчатской области</div>
<div class="t" style="left:398.00px;top:1002.44px;font-size:12.3px;line-height:15px;font-weight:normal;color:#2a1570;transform:scaleX(0.928);">Преступная халатность<br>и превышение долж-<br>ностных полномочий</div>
<div class="t" style="left:559.30px;top:1001.83px;font-size:15.5px;line-height:15px;font-weight:bold;color:#2a1570;transform:scaleX(0.924);">7 млрд руб.</div>
<div class="t" style="left:674.00px;top:1003.94px;font-size:12.3px;line-height:15px;font-weight:normal;color:#2a1570;transform:scaleX(0.928);">Подписка о невыезде<br>1 г. 8 мес. (с 22.03.03)</div>
<div class="t" style="left:827.00px;top:1001.83px;font-size:15.5px;line-height:15px;font-weight:bold;color:#2a1570;transform:scaleX(0.924);">Дело закрыто</div>
<div class="t" style="left:110.20px;top:1087.48px;font-size:11.6px;line-height:15px;font-weight:bold;color:#2a1570;transform:scaleX(0.925);">Алексей<br>Баринов</div>
<div class="t" style="left:217.00px;top:1088.24px;font-size:12.3px;line-height:15px;font-weight:normal;color:#2a1570;transform:scaleX(0.928);">Губернатор<br>Ненецкого АО</div>
<div class="t" style="left:398.00px;top:1086.74px;font-size:12.3px;line-height:15px;font-weight:normal;color:#2a1570;transform:scaleX(0.928);">Превышение<br>должностных<br>полномочий</div>
<div class="t" style="left:559.30px;top:1086.13px;font-size:15.5px;line-height:15px;font-weight:bold;color:#2a1570;transform:scaleX(0.924);">19 млн руб.</div>
<div class="t" style="left:674.00px;top:1088.24px;font-size:12.3px;line-height:15px;font-weight:normal;color:#2a1570;transform:scaleX(0.928);">В СИЗО 1 г. 4 мес.<br>(с 24.05.06)</div>
<div class="t" style="left:827.00px;top:1086.13px;font-size:15.5px;line-height:15px;font-weight:bold;color:#2a1570;transform:scaleX(0.924);">3 года условно</div>
<div class="t" style="left:110.20px;top:1171.68px;font-size:11.6px;line-height:15px;font-weight:bold;color:#2a1570;transform:scaleX(0.925);">Леонид<br>Коротков</div>
<div class="t" style="left:217.00px;top:1172.44px;font-size:12.3px;line-height:15px;font-weight:normal;color:#2a1570;transform:scaleX(0.928);">Губернатор<br>Амурской области</div>
<div class="t" style="left:398.00px;top:1170.94px;font-size:12.3px;line-height:15px;font-weight:normal;color:#2a1570;transform:scaleX(0.928);">Превышение<br>должностных<br>полномочий</div>
<div class="t" style="left:559.30px;top:1170.33px;font-size:15.5px;line-height:15px;font-weight:bold;color:#2a1570;transform:scaleX(0.924);">16 млн руб.</div>
<div class="t" style="left:674.00px;top:1172.44px;font-size:12.3px;line-height:15px;font-weight:normal;color:#2a1570;transform:scaleX(0.928);">Подписка о невыезде<br>1 г. 8 мес. (с 20.04.09)</div>
<div class="t" style="left:827.00px;top:1170.33px;font-size:15.5px;line-height:15px;font-weight:bold;color:#2a1570;transform:scaleX(0.924);">Дело закрыто</div>
<div class="t" style="left:110.20px;top:1256.48px;font-size:11.6px;line-height:15px;font-weight:bold;color:#2a1570;transform:scaleX(0.925);">Вячеслав<br>Дудка</div>
<div class="t" style="left:217.00px;top:1257.24px;font-size:12.3px;line-height:15px;font-weight:normal;color:#2a1570;transform:scaleX(0.928);">Губернатор<br>Тульской области</div>
<div class="t" style="left:398.00px;top:1255.74px;font-size:12.3px;line-height:15px;font-weight:normal;color:#2a1570;transform:scaleX(0.928);">Получение взятки</div>
<div class="t" style="left:559.30px;top:1255.13px;font-size:15.5px;line-height:15px;font-weight:bold;color:#2a1570;transform:scaleX(0.924);">40 млн руб.</div>
<div class="t" style="left:674.00px;top:1257.24px;font-size:12.3px;line-height:15px;font-weight:normal;color:#2a1570;transform:scaleX(0.928);">Домашний арест<br>1 г. 10 мес. (с 06.09.11)</div>
<div class="t" style="left:827.00px;top:1255.13px;font-size:15.5px;line-height:15px;font-weight:bold;color:#2a1570;transform:scaleX(0.924);">9,5 лет в колонии<br>строгого режима</div>
<div class="t" style="left:110.20px;top:1340.68px;font-size:11.6px;line-height:15px;font-weight:bold;color:#2a1570;transform:scaleX(0.925);">Александр<br>Тишанин</div>
<div class="t" style="left:217.00px;top:1341.44px;font-size:12.3px;line-height:15px;font-weight:normal;color:#2a1570;transform:scaleX(0.928);">Губернатор<br>Иркутской области</div>
<div class="t" style="left:398.00px;top:1339.94px;font-size:12.3px;line-height:15px;font-weight:normal;color:#2a1570;transform:scaleX(0.928);">Злоупотребление<br>служебным<br>положением</div>
<div class="t" style="left:559.30px;top:1339.33px;font-size:15.5px;line-height:15px;font-weight:bold;color:#2a1570;transform:scaleX(0.924);">60 млн руб.</div>
<div class="t" style="left:674.00px;top:1341.44px;font-size:12.3px;line-height:15px;font-weight:normal;color:#2a1570;transform:scaleX(0.928);">Подписка о невыезде<br>8 мес. (с 01.11.11)</div>
<div class="t" style="left:827.00px;top:1339.33px;font-size:15.5px;line-height:15px;font-weight:bold;color:#2a1570;transform:scaleX(0.924);">Дело закрыто</div>
<div class="t" style="left:110.20px;top:1425.48px;font-size:11.6px;line-height:15px;font-weight:bold;color:#2a1570;transform:scaleX(0.925);">Василий<br>Юрченко</div>
<div class="t" style="left:217.00px;top:1426.24px;font-size:12.3px;line-height:15px;font-weight:normal;color:#2a1570;transform:scaleX(0.928);">Губернатор<br>Новосибирской области</div>
<div class="t" style="left:398.00px;top:1424.74px;font-size:12.3px;line-height:15px;font-weight:normal;color:#2a1570;transform:scaleX(0.928);">Превышение<br>полномочий</div>
<div class="t" style="left:559.30px;top:1424.13px;font-size:15.5px;line-height:15px;font-weight:bold;color:#2a1570;transform:scaleX(0.924);">18 млн руб.</div>
<div class="t" style="left:674.00px;top:1426.24px;font-size:12.3px;line-height:15px;font-weight:normal;color:#2a1570;transform:scaleX(0.928);">Подписка о невыезде<br>с 19.03.14 по н. вр.</div>
<div class="t" style="left:827.00px;top:1424.13px;font-size:15.5px;line-height:15px;font-weight:bold;color:#2a1570;transform:scaleX(0.924);">Расследование<br>продолжается</div>
<div class="t" style="left:110.20px;top:1509.48px;font-size:11.6px;line-height:15px;font-weight:bold;color:#2a1570;transform:scaleX(0.925);">Александр<br>Хорошавин</div>
<div class="t" style="left:217.00px;top:1510.24px;font-size:12.3px;line-height:15px;font-weight:normal;color:#2a1570;transform:scaleX(0.928);">Губернатор<br>Сахалинской области</div>
<div class="t" style="left:399.00px;top:1508.74px;font-size:12.3px;line-height:15px;font-weight:normal;color:#2a1570;transform:scaleX(0.928);">Получение взятки</div>
<div class="t" style="left:559.30px;top:1508.13px;font-size:15.5px;line-height:15px;font-weight:bold;color:#2a1570;transform:scaleX(0.924);">5,6 млн долл.</div>
<div class="t" style="left:559.30px;top:1525.24px;font-size:12.3px;line-height:15px;font-weight:normal;color:#2a1570;transform:scaleX(0.928);">(~336 млн руб.)</div>
<div class="t" style="left:674.00px;top:1510.24px;font-size:12.3px;line-height:15px;font-weight:normal;color:#2a1570;transform:scaleX(0.928);">В СИЗО с 04.03.15<br>по н. вр.</div>
<div class="t" style="left:827.00px;top:1508.13px;font-size:15.5px;line-height:15px;font-weight:bold;color:#2a1570;transform:scaleX(0.924);">Расследование<br>продолжается</div>
<div class="t" style="left:110.20px;top:1593.98px;font-size:11.6px;line-height:15px;font-weight:bold;color:#2a1570;transform:scaleX(0.925);">Николай<br>Денин</div>
<div class="t" style="left:217.00px;top:1594.74px;font-size:12.3px;line-height:15px;font-weight:normal;color:#2a1570;transform:scaleX(0.928);">Губернатор<br>Брянской области</div>
<div class="t" style="left:398.00px;top:1593.24px;font-size:12.3px;line-height:15px;font-weight:normal;color:#2a1570;transform:scaleX(0.928);">Злоупотребление<br>должностными<br>полномочиями</div>
<div class="t" style="left:559.30px;top:1592.63px;font-size:15.5px;line-height:15px;font-weight:bold;color:#2a1570;transform:scaleX(0.924);">21,8 млн руб.</div>
<div class="t" style="left:674.00px;top:1594.74px;font-size:12.3px;line-height:15px;font-weight:normal;color:#2a1570;transform:scaleX(0.928);">Домашний арест<br>6 мес. (с 21.05.15)</div>
<div class="t" style="left:827.00px;top:1592.63px;font-size:15.5px;line-height:15px;font-weight:bold;color:#2a1570;transform:scaleX(0.924);">4 года в колонии<br>общего режима</div>
<div class="t" style="left:110.20px;top:1677.48px;font-size:11.6px;line-height:15px;font-weight:bold;color:#2a1570;transform:scaleX(0.925);">Вячеслав<br>Гайзер</div>
<div class="t" style="left:217.00px;top:1678.24px;font-size:12.3px;line-height:15px;font-weight:normal;color:#2a1570;transform:scaleX(0.928);">Губернатор<br>Республики Коми</div>
<div class="t" style="left:398.00px;top:1676.74px;font-size:12.3px;line-height:15px;font-weight:normal;color:#2a1570;transform:scaleX(0.928);">Организация<br>и участие в преступном<br>сообществе, мошенниче-<br>ство, легализация (отмы-<br>вание) денежных средств<br>или иного имущества,<br>приобретенных в резуль-<br>тате совершения престу-<br>пления, получение взятки</div>
<div class="t" style="left:559.30px;top:1676.13px;font-size:15.5px;line-height:15px;font-weight:bold;color:#2a1570;transform:scaleX(0.924);">1 млрд руб.</div>
<div class="t" style="left:674.00px;top:1678.24px;font-size:12.3px;line-height:15px;font-weight:normal;color:#2a1570;transform:scaleX(0.928);">В СИЗО с 19.09.15<br>по н. вр.</div>
<div class="t" style="left:827.00px;top:1676.13px;font-size:15.5px;line-height:15px;font-weight:bold;color:#2a1570;transform:scaleX(0.924);">Расследование<br>продолжается</div>
<div class="t" style="left:110.20px;top:1839.98px;font-size:11.6px;line-height:15px;font-weight:bold;color:#2a1570;transform:scaleX(0.925);">Никита<br>Белых</div>
<div class="t" style="left:217.00px;top:1840.74px;font-size:12.3px;line-height:15px;font-weight:normal;color:#2a1570;transform:scaleX(0.928);">Губернатор<br>Кировской области</div>
<div class="t" style="left:398.00px;top:1839.24px;font-size:12.3px;line-height:15px;font-weight:normal;color:#2a1570;transform:scaleX(0.928);">Получение<br>взятки</div>
<div class="t" style="left:559.30px;top:1838.63px;font-size:15.5px;line-height:15px;font-weight:bold;color:#2a1570;transform:scaleX(0.924);">400 тыс. евро</div>
<div class="t" style="left:559.30px;top:1855.74px;font-size:12.3px;line-height:15px;font-weight:normal;color:#2a1570;transform:scaleX(0.928);">(~28 млн руб.)</div>
<div class="t" style="left:674.00px;top:1840.74px;font-size:12.3px;line-height:15px;font-weight:normal;color:#2a1570;transform:scaleX(0.928);">В СИЗО с 24.06.16<br>по н. вр.</div>
<div class="t" style="left:827.00px;top:1838.63px;font-size:15.5px;line-height:15px;font-weight:bold;color:#2a1570;transform:scaleX(0.924);">Расследование<br>продолжается</div>
<div class="t" style="left:110.20px;top:1924.08px;font-size:11.6px;line-height:15px;font-weight:bold;color:#2a1570;transform:scaleX(0.925);">Владимир<br>Торлопов</div>
<div class="t" style="left:217.00px;top:1924.84px;font-size:12.3px;line-height:15px;font-weight:normal;color:#2a1570;transform:scaleX(0.928);">Губернатор<br>Республики Коми</div>
<div class="t" style="left:398.00px;top:1923.34px;font-size:12.3px;line-height:15px;font-weight:normal;color:#2a1570;transform:scaleX(0.928);">Мошенничество<br>в особо крупном размере<br>в составе организованной<br>группы с использованием<br>служебного положения</div>
<div class="t" style="left:559.30px;top:1922.73px;font-size:15.5px;line-height:15px;font-weight:bold;color:#2a1570;transform:scaleX(0.924);">2,5 млрд руб.</div>
<div class="t" style="left:674.00px;top:1924.84px;font-size:12.3px;line-height:15px;font-weight:normal;color:#2a1570;transform:scaleX(0.928);">Домашний арест<br>с 07.10.16 по н. вр.</div>
<div class="t" style="left:827.00px;top:1922.73px;font-size:15.5px;line-height:15px;font-weight:bold;color:#2a1570;transform:scaleX(0.924);">Расследование<br>продолжается</div>
<div class="t" style="left:110.20px;top:2122.48px;font-size:11.6px;line-height:15px;font-weight:bold;color:#2a1570;transform:scaleX(0.925);">Олег<br>Донских</div>
<div class="t" style="left:217.00px;top:2123.24px;font-size:12.3px;line-height:15px;font-weight:normal;color:#2a1570;transform:scaleX(0.928);">Руководитель департамента<br>министерства сельского<br>хозяйства РФ</div>
<div class="t" style="left:398.00px;top:2121.74px;font-size:12.3px;line-height:15px;font-weight:normal;color:#2a1570;transform:scaleX(0.928);">Мошенничество</div>
<div class="t" style="left:559.30px;top:2121.13px;font-size:15.5px;line-height:15px;font-weight:bold;color:#2a1570;transform:scaleX(0.924);">800 млн руб.</div>
<div class="t" style="left:674.00px;top:2123.24px;font-size:12.3px;line-height:15px;font-weight:normal;color:#2a1570;transform:scaleX(0.928);">В розыске по линии<br>Интерпола с 17.04.12</div>
<div class="t" style="left:827.00px;top:2121.13px;font-size:15.5px;line-height:15px;font-weight:bold;color:#2a1570;transform:scaleX(0.924);">Расследование<br>продолжается</div>
<div class="t" style="left:110.20px;top:2207.98px;font-size:11.6px;line-height:15px;font-weight:bold;color:#2a1570;transform:scaleX(0.925);">Евгения<br>Васильева</div>
<div class="t" style="left:217.00px;top:2208.74px;font-size:12.3px;line-height:15px;font-weight:normal;color:#2a1570;transform:scaleX(0.928);">Руководитель департамен-<br>та имущественных отноше-<br>ний министерства<br>обороны РФ</div>
<div class="t" style="left:398.00px;top:2207.24px;font-size:12.3px;line-height:15px;font-weight:normal;color:#2a1570;transform:scaleX(0.928);">Мошенничество</div>
<div class="t" style="left:559.30px;top:2206.63px;font-size:15.5px;line-height:15px;font-weight:bold;color:#2a1570;transform:scaleX(0.924);">3 млрд руб.</div>
<div class="t" style="left:674.00px;top:2208.74px;font-size:12.3px;line-height:15px;font-weight:normal;color:#2a1570;transform:scaleX(0.928);">Домашний арест<br>2 г. 9 мес. (с 23.11.12).<br>Исправительная колония<br>4 мес. (с 08.05.15)</div>
<div class="t" style="left:827.00px;top:2206.63px;font-size:15.5px;line-height:15px;font-weight:bold;color:#2a1570;transform:scaleX(0.924);">5 лет колонии<br>общего режима.<br>Освобождена<br>условно-досрочно</div>
<div class="t" style="left:110.20px;top:2297.78px;font-size:11.6px;line-height:15px;font-weight:bold;color:#2a1570;transform:scaleX(0.925);">Дмитрий<br>Амунц</div>
<div class="t" style="left:217.00px;top:2298.54px;font-size:12.3px;line-height:15px;font-weight:normal;color:#2a1570;transform:scaleX(0.928);">Зам. руководителя<br>Федерального агентства<br>по туризму РФ</div>
<div class="t" style="left:398.00px;top:2297.04px;font-size:12.3px;line-height:15px;font-weight:normal;color:#2a1570;transform:scaleX(0.928);">Хищение</div>
<div class="t" style="left:559.30px;top:2296.43px;font-size:15.5px;line-height:15px;font-weight:bold;color:#2a1570;transform:scaleX(0.924);">28 млрд руб.</div>
<div class="t" style="left:674.00px;top:2298.54px;font-size:12.3px;line-height:15px;font-weight:normal;color:#2a1570;transform:scaleX(0.928);">В СИЗО с 23.08.14<br>по н. вр.</div>
<div class="t" style="left:827.00px;top:2296.43px;font-size:15.5px;line-height:15px;font-weight:bold;color:#2a1570;transform:scaleX(0.924);">Расследование<br>продолжается</div>
<div class="t" style="left:20.30px;top:2386.78px;font-size:9.3px;line-height:15px;font-weight:normal;color:#3a3a3a;transform:scaleX(1.12);">Источник: ria.ru</div>
<div class="t" style="left:970.07px;top:2349.5px;font-size:9.6px;line-height:12px;color:#4a4a4a;transform:rotate(-90deg) scaleX(1.05);">Редактор: Елена Приданникова. Дизайнер: Евгений Рындин. Руководитель: Александр Вершинин. Арт-директор: Антон Степанов</div>
</body></html>
